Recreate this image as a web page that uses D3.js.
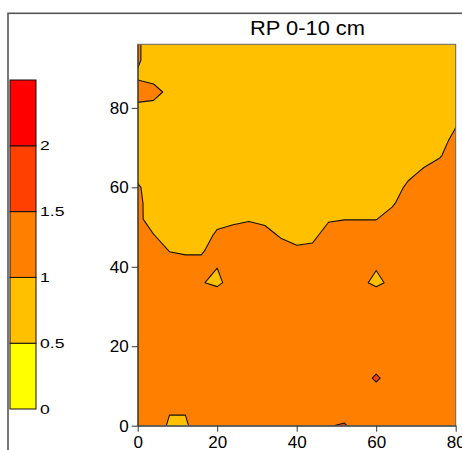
<!DOCTYPE html>
<html>
<head>
<meta charset="UTF-8">
<title>RP 0-10 cm</title>
<script src="https://d3js.org/d3.v7.min.js"></script>
<style>
  body { margin: 0; background: #fff; }
  text { font-family: "Liberation Sans", Arial, sans-serif; }
</style>
</head>
<body>
<svg width="462" height="450"></svg>
<script>
// grid positions (cm) and values, top row first
const xs = [0, 4, 8, 12, 16, 20, 24, 28, 32, 36, 40, 44, 48, 52, 56, 60, 64, 68, 72, 76, 80];
const ys = [96, 92, 88, 84, 80, 76, 72, 68, 64, 60, 56, 52, 48, 44, 40, 36, 32, 28, 24, 20, 16, 12, 8, 4, 0];
const zRows = [
  [1.05,0.8,0.8,0.8,0.8,0.8,0.8,0.8,0.8,0.8,0.8,0.8,0.8,0.8,0.8,0.8,0.8,0.8,0.8,0.8,0.8],
  [1.05,0.8,0.8,0.8,0.8,0.8,0.8,0.8,0.8,0.8,0.8,0.8,0.8,0.8,0.8,0.8,0.8,0.8,0.8,0.8,0.8],
  [0.95,0.8,0.8,0.8,0.8,0.8,0.8,0.8,0.8,0.8,0.8,0.8,0.8,0.8,0.8,0.8,0.8,0.8,0.8,0.8,0.8],
  [1.15,1.2,0.85,0.8,0.8,0.8,0.8,0.8,0.8,0.8,0.8,0.8,0.8,0.8,0.8,0.8,0.8,0.8,0.8,0.8,0.8],
  [0.92,0.82,0.8,0.8,0.8,0.8,0.8,0.8,0.8,0.8,0.8,0.8,0.8,0.8,0.8,0.8,0.8,0.8,0.8,0.8,0.8],
  [0.8,0.8,0.8,0.8,0.8,0.8,0.8,0.8,0.8,0.8,0.8,0.8,0.8,0.8,0.8,0.8,0.8,0.8,0.8,0.8,0.95],
  [0.8,0.8,0.8,0.8,0.8,0.8,0.8,0.8,0.8,0.8,0.8,0.8,0.8,0.8,0.8,0.8,0.8,0.8,0.8,0.8,1.15],
  [0.8,0.8,0.8,0.8,0.8,0.8,0.8,0.8,0.8,0.8,0.8,0.8,0.8,0.8,0.8,0.8,0.8,0.8,0.85,0.97,1.2],
  [0.85,0.8,0.8,0.8,0.8,0.8,0.8,0.8,0.8,0.8,0.8,0.8,0.8,0.8,0.8,0.8,0.8,0.88,1.05,1.17,1.2],
  [1.05,0.8,0.8,0.8,0.8,0.8,0.8,0.8,0.8,0.8,0.8,0.8,0.8,0.8,0.8,0.8,0.8,1.08,1.2,1.2,1.2],
  [1.1,0.8,0.8,0.8,0.8,0.8,0.8,0.8,0.8,0.8,0.8,0.8,0.8,0.8,0.8,0.8,0.95,1.2,1.2,1.2,1.2],
  [1.1,0.81,0.8,0.8,0.8,0.87,0.93,0.97,0.92,0.8,0.8,0.8,0.96,0.99,0.99,0.99,1.15,1.2,1.2,1.2,1.2],
  [1.2,1.01,0.8,0.8,0.8,1.07,1.13,1.17,1.12,0.96,0.87,0.9,1.16,1.2,1.2,1.2,1.2,1.2,1.2,1.2,1.2],
  [1.2,1.2,0.99,0.95,0.95,1.2,1.2,1.2,1.2,1.16,1.07,1.1,1.2,1.2,1.2,1.2,1.2,1.2,1.2,1.2,1.2],
  [1.2,1.2,1.19,1.15,1.15,1.01,1.2,1.2,1.2,1.2,1.2,1.2,1.2,1.2,1.2,1.03,1.2,1.2,1.2,1.2,1.2],
  [1.2,1.2,1.2,1.2,1.03,0.9,1.19,1.2,1.2,1.2,1.2,1.2,1.2,1.2,1.1,0.9,1.1,1.2,1.2,1.2,1.2],
  [1.2,1.2,1.2,1.2,1.2,1.3,1.2,1.2,1.2,1.2,1.2,1.2,1.2,1.2,1.2,1.3,1.2,1.2,1.2,1.2,1.2],
  [1.2,1.2,1.2,1.2,1.2,1.2,1.2,1.2,1.2,1.2,1.2,1.2,1.2,1.2,1.2,1.2,1.2,1.2,1.2,1.2,1.2],
  [1.2,1.2,1.2,1.2,1.2,1.2,1.2,1.2,1.2,1.2,1.2,1.2,1.2,1.2,1.2,1.2,1.2,1.2,1.2,1.2,1.2],
  [1.2,1.2,1.2,1.2,1.2,1.2,1.2,1.2,1.2,1.2,1.2,1.2,1.2,1.2,1.2,1.2,1.2,1.2,1.2,1.2,1.2],
  [1.2,1.2,1.2,1.2,1.2,1.2,1.2,1.2,1.2,1.2,1.2,1.2,1.2,1.2,1.2,1.2,1.2,1.2,1.2,1.2,1.2],
  [1.2,1.2,1.2,1.2,1.2,1.2,1.2,1.2,1.2,1.2,1.2,1.2,1.2,1.2,1.2,1.6,1.2,1.2,1.2,1.2,1.2],
  [1.2,1.2,1.2,1.2,1.2,1.2,1.2,1.2,1.2,1.2,1.2,1.2,1.2,1.2,1.2,1.2,1.2,1.2,1.2,1.2,1.2],
  [1.2,1.2,1.05,1.05,1.2,1.2,1.2,1.2,1.2,1.2,1.2,1.2,1.2,1.2,1.2,1.2,1.2,1.2,1.2,1.2,1.2],
  [1.2,1.4,0.9,0.9,1.4,1.2,1.2,1.2,1.2,1.2,1.2,1.2,1.47,1.56,1.2,1.2,1.2,1.2,1.2,1.2,1.2]
];

const levels = [0, 0.5, 1, 1.5, 2, 2.5];
const levelColors = ['#ffff00', '#ffc000', '#ff8000', '#ff4000', '#ff0000'];
const legendLabels = ['0', '0.5', '1', '1.5', '2'];
const xTicks = [0, 20, 40, 60, 80];
const yTicks = [0, 20, 40, 60, 80];
const title = 'RP 0-10 cm';

const svg = d3.select('svg');
const plot = { left: 137.7, right: 455.7, top: 44.3, bottom: 425.7 };

const x = d3.scaleLinear().domain([0, 80]).range([plot.left, plot.right]);
const y = d3.scaleLinear().domain([0, 96]).range([plot.bottom, plot.top]);

// outer frame (only top and left show)
svg.append('rect')
    .attr('x', 8).attr('y', 13.3)
    .attr('width', 480).attr('height', 470)
    .attr('fill', 'none')
    .attr('stroke', '#555')
    .attr('stroke-width', 1.6);

// contours
const n = xs.length, m = ys.length;
const gx = d3.scaleLinear().domain([0.5, n - 0.5]).range([xs[0], xs[n - 1]]);
const gy = d3.scaleLinear().domain([0.5, m - 0.5]).range([ys[0], ys[m - 1]]);
const path = d3.geoPath(d3.geoTransform({
    point(px, py) { this.stream.point(x(gx(px)), y(gy(py))); }
}));
const bands = d3.contours()
    .size([n, m])
    .thresholds(levels.slice(0, levelColors.length))(zRows.flat());

svg.append('clipPath').attr('id', 'clip')
  .append('rect')
    .attr('x', plot.left).attr('y', plot.top)
    .attr('width', plot.right - plot.left)
    .attr('height', plot.bottom - plot.top);

svg.append('g')
    .attr('clip-path', 'url(#clip)')
  .selectAll('path')
  .data(bands)
  .join('path')
    .attr('d', d => path(d) || '')
    .attr('fill', (d, i) => levelColors[i])
    .attr('stroke', '#111')
    .attr('stroke-width', 1.1)
    .attr('stroke-linejoin', 'round');

svg.append('rect')
    .attr('x', plot.left).attr('y', plot.top)
    .attr('width', plot.right - plot.left)
    .attr('height', plot.bottom - plot.top)
    .attr('fill', 'none')
    .attr('stroke', '#666')
    .attr('stroke-width', 1);

// axes
const styleAxis = g => {
    g.attr('font-size', 17).attr('font-family', '"Liberation Sans", Arial, sans-serif');
    g.selectAll('.domain, line').attr('stroke', '#333');
    g.selectAll('text').attr('fill', '#000');
};

svg.append('g')
    .attr('transform', `translate(0,${plot.bottom})`)
    .call(d3.axisBottom(x).tickValues(xTicks).tickSize(6).tickSizeOuter(0).tickPadding(4))
    .call(styleAxis);

svg.append('g')
    .attr('transform', `translate(${plot.left},0)`)
    .call(d3.axisLeft(y).tickValues(yTicks).tickSize(6).tickSizeOuter(0).tickPadding(3))
    .call(styleAxis);

// title
svg.append('text')
    .attr('x', 307.5).attr('y', 35)
    .attr('text-anchor', 'middle')
    .attr('font-size', 20)
    .attr('textLength', 115)
    .attr('lengthAdjust', 'spacingAndGlyphs')
    .text(title);

// colour bar
const cb = d3.scaleLinear().domain([0, 2.5]).range([409, 80]);

svg.selectAll('.band')
  .data(levelColors)
  .join('rect')
    .attr('class', 'band')
    .attr('x', 10)
    .attr('width', 26)
    .attr('y', (d, i) => cb(levels[i + 1]))
    .attr('height', (d, i) => cb(levels[i]) - cb(levels[i + 1]))
    .attr('fill', d => d)
    .attr('stroke', '#111')
    .attr('stroke-width', 1);

svg.selectAll('.cblabel')
  .data(legendLabels)
  .join('text')
    .attr('class', 'cblabel')
    .attr('transform', (d, i) => `translate(40,${cb(levels[i])}) scale(1.35,1)`)
    .attr('dy', '0.35em')
    .attr('font-size', 13)
    .text(d => d);
</script>
</body>
</html>
